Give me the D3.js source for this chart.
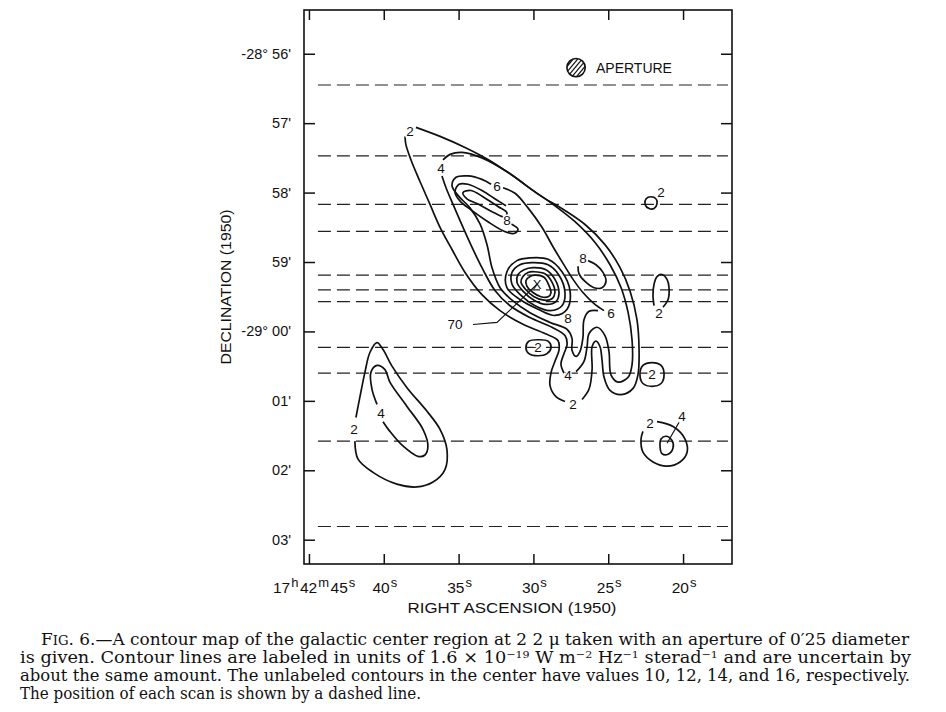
<!DOCTYPE html>
<html><head><meta charset="utf-8">
<script src="https://cdn.jsdelivr.net/npm/d3@7"></script>
<style>body{margin:0;background:#fff}</style>
</head><body>
<svg id="c" width="946" height="712"></svg>
<script>
// ---- axes data (RA seconds after 17h42m, Dec minutes after -28°00') ----
const raTicks = [45, 40, 35, 30, 25, 20];
const raTickLabels = ["45", "40", "35", "30", "25", "20"];
const decTicks = [56, 57, 58, 59, 60, 61, 62, 63];
const decTickLabels = ["-28° 56'", "57'", "58'", "59'", "-29° 00'", "01'", "02'", "03'"];
const raFrame = [45.33, 16.73];
const decFrame = [55.37, 63.35];
const scanDecs = [56.45, 57.47, 58.17, 58.56, 59.19, 59.40, 59.57, 60.23, 60.60, 61.58, 62.81];
const scanRA = [44.4, 17.0];

// ---- contours [RA s, Dec '] ----
const c2MainA = [[37.85,57.06],[36.24,57.19],[34.57,57.35],[32.90,57.54],[31.23,57.78],[29.56,58.04],[28.02,58.24],[26.55,58.46],[25.22,58.75],[24.21,59.08],[23.54,59.42],[23.08,59.83],[22.94,60.26],[23.01,60.62],[23.34,60.82],[24.15,60.91],[24.88,60.85],[25.28,60.66],[25.42,60.40],[25.55,60.22],[25.82,60.14],[26.08,60.22],[26.08,60.55],[26.28,60.83],[26.75,60.98]];
const c2MainB = [[27.89,61.01],[28.49,60.94],[28.89,60.78],[28.82,60.59],[28.56,60.43],[28.29,60.27],[28.36,60.13],[29.23,60.03],[30.76,59.89],[32.23,59.70],[33.44,59.47],[34.57,59.15],[35.44,58.82],[36.24,58.50],[36.91,58.17],[37.58,57.84],[38.18,57.53],[38.52,57.31],[38.58,57.19]];
const c4MainA = [[36.04,57.53],[35.57,57.45],[34.77,57.42],[33.44,57.50],[31.76,57.70],[30.23,57.94],[28.69,58.17],[27.22,58.42],[25.88,58.72],[24.88,59.04],[24.14,59.37],[23.67,59.73],[23.41,60.12],[23.41,60.48],[23.67,60.66],[24.35,60.73],[24.81,60.63],[24.95,60.29],[25.22,60.06],[25.75,59.94],[26.28,60.03],[26.42,60.23],[26.62,60.43],[27.15,60.58]];
const c4MainB = [[27.96,60.60],[28.16,60.47],[27.96,60.32],[27.75,60.19],[27.89,60.06],[28.76,59.94],[30.23,59.80],[31.56,59.63],[32.57,59.41],[33.37,59.11],[34.10,58.79],[34.77,58.47],[35.37,58.17],[35.84,57.93],[36.11,57.76]];
const c6A = [[32.03,57.93],[31.23,58.01],[30.36,58.22],[29.43,58.50],[28.69,58.78],[28.02,59.02],[27.35,59.25],[26.69,59.44],[25.95,59.60],[25.28,59.70]];
const c6B = [[25.68,59.70],[26.28,59.71],[26.62,59.83],[26.69,60.09],[26.89,60.29],[27.15,60.36],[27.42,60.27],[27.42,60.10],[27.75,59.97],[28.89,59.87],[30.23,59.73],[31.43,59.55],[32.23,59.37],[32.77,59.08],[33.10,58.75],[33.57,58.45],[34.24,58.22],[35.04,58.04],[35.44,57.90],[35.17,57.78],[34.37,57.76],[33.44,57.81],[32.83,57.88]];
const c8Upper = [[31.50,58.45],[31.03,58.53],[31.30,58.59],[32.03,58.55],[33.04,58.42],[34.10,58.26],[34.91,58.12],[35.24,57.99],[34.97,57.88],[34.37,57.88],[33.44,57.97],[32.50,58.10],[31.83,58.19]];
const c8UpperInner = [[34.71,58.00],[34.17,57.97],[33.30,58.07],[32.37,58.20],[31.77,58.29],[31.90,58.35],[32.63,58.29],[33.64,58.17],[34.44,58.09]];
const c8Right = [[26.35,58.98],[25.82,59.04],[25.35,59.15],[25.15,59.28],[25.42,59.37],[25.95,59.37],[26.55,59.28],[26.95,59.17],[27.02,59.06]];
const peak8 = [[30.23,58.94],[29.02,58.96],[28.09,59.14],[27.55,59.42],[27.75,59.68],[28.56,59.77],[29.69,59.68],[30.90,59.54],[31.77,59.37],[31.77,59.14],[31.10,58.98]];
const peak10 = [[30.09,59.01],[29.02,59.04],[28.29,59.19],[27.89,59.44],[28.09,59.63],[28.89,59.70],[29.89,59.63],[30.83,59.48],[31.43,59.32],[31.43,59.15],[30.90,59.04]];
const peak12 = [[30.03,59.08],[29.16,59.11],[28.56,59.25],[28.29,59.44],[28.49,59.57],[29.16,59.61],[29.96,59.55],[30.70,59.42],[31.10,59.29],[31.03,59.18],[30.63,59.11]];
const peak14 = [[29.96,59.14],[29.23,59.17],[28.76,59.29],[28.56,59.44],[28.76,59.53],[29.29,59.55],[29.96,59.50],[30.50,59.40],[30.83,59.29],[30.70,59.21],[30.36,59.15]];
const peak16 = [[29.89,59.19],[29.29,59.22],[28.96,59.34],[28.82,59.44],[29.02,59.50],[29.49,59.50],[30.03,59.44],[30.43,59.35],[30.50,59.27],[30.23,59.21]];
const peakPos = [29.76, 59.32];
const leader70 = [[34.04,59.90],[32.43,59.87],[29.76,59.32]];
const c2RightSmall = [[21.34,59.65],[21.00,59.54],[20.94,59.37],[21.07,59.25],[21.41,59.18],[21.74,59.21],[21.94,59.32],[22.01,59.48],[21.94,59.63]];
const c2RightCircle = [[22.07,60.45],[21.47,60.49],[21.27,60.62],[21.47,60.75],[22.07,60.79],[22.68,60.75],[22.88,60.62],[22.68,60.49]];
const c2Ellipse = [[29.69,60.12],[29.02,60.14],[28.82,60.23],[29.09,60.32],[29.69,60.35],[30.30,60.32],[30.50,60.23],[30.30,60.14]];
const c2TopRight = [[22.14,58.06],[21.81,58.09],[21.74,58.16],[21.94,58.23],[22.27,58.23],[22.54,58.17],[22.47,58.09]];
const c2LowRight = [[21.74,61.30],[20.67,61.37],[19.87,61.55],[19.73,61.74],[20.20,61.88],[21.07,61.94],[22.01,61.88],[22.68,61.74],[22.81,61.55],[22.68,61.44]];
const c4LowRight = [[21.14,61.51],[20.74,61.57],[20.67,61.68],[21.00,61.77],[21.41,61.76],[21.54,61.65],[21.47,61.55]];
const leader4LowRight = [[20.27,61.31],[21.07,61.61]];
const c2LowLeft = [[41.86,61.24],[41.59,60.94],[41.26,60.59],[40.92,60.30],[40.45,60.16],[40.05,60.26],[39.45,60.50],[38.45,60.81],[37.11,61.15],[36.24,61.41],[35.78,61.70],[35.91,61.99],[36.71,62.17],[37.78,62.24],[39.12,62.20],[40.72,62.03],[41.72,61.84],[41.93,61.58]];
const c4LowLeft = [[40.05,61.30],[39.59,61.44],[38.72,61.65],[37.71,61.80],[37.25,61.78],[37.05,61.65],[37.38,61.41],[38.45,61.08],[39.59,60.73],[39.92,60.55],[40.45,60.49],[40.86,60.59],[40.79,60.83],[40.45,61.05]];

const contourLabels = [
  {t:"2", ra:38.25, dec:57.11}, {t:"4", ra:36.18, dec:57.64}, {t:"6", ra:32.43, dec:57.91},
  {t:"8", ra:31.77, dec:58.40}, {t:"8", ra:26.69, dec:58.94}, {t:"6", ra:24.81, dec:59.74},
  {t:"8", ra:27.69, dec:59.80}, {t:"4", ra:27.69, dec:60.63}, {t:"2", ra:27.35, dec:61.04},
  {t:"2", ra:21.61, dec:59.74}, {t:"2", ra:22.07, dec:60.62}, {t:"2", ra:29.69, dec:60.23},
  {t:"2", ra:21.47, dec:57.99}, {t:"2", ra:22.21, dec:61.32}, {t:"4", ra:20.07, dec:61.22},
  {t:"2", ra:41.99, dec:61.41}, {t:"4", ra:40.19, dec:61.18}, {t:"70", ra:35.24, dec:59.90}
];
const aperture = {ra:27.15, dec:56.20, diam:0.25, label:"APERTURE", labelRA:25.82};

// caption: segments [text, kind] (0 normal, 1 superscript, 2 small caps)
const captionLine1 = [["F",0],["IG",2],[". 6.—A contour map of the galactic center region at 2 2 μ taken with an aperture of 0′25 diameter",0]];
const captionLine2 = [["is given. Contour lines are labeled in units of 1.6 × 10",0],["−19",1],[" W m",0],["−2",1],[" Hz",0],["−1",1],[" sterad",0],["−1",1],[" and are uncertain by",0]];
const captionLine3 = [["about the same amount. The unlabeled contours in the center have values 10, 12, 14, and 16, respectively.",0]];
const captionLine4 = [["The position of each scan is shown by a dashed line.",0]];

// ---- drawing ----
const svg = d3.select("#c");
const x = d3.scaleLinear().domain(raFrame).range([304, 732]);
const y = d3.scaleLinear().domain(decFrame).range([10, 564]);
const sans = "'Liberation Sans', Arial, sans-serif";

// scan lines
svg.append("g").selectAll("line").data(scanDecs).join("line")
  .attr("x1", x(scanRA[0])).attr("x2", x(scanRA[1]))
  .attr("y1", d => y(d)).attr("y2", d => y(d))
  .attr("stroke", "#222").attr("stroke-width", 1.2).attr("stroke-dasharray", "13,6");

// frame
svg.append("rect").attr("x", x(raFrame[0])).attr("y", y(decFrame[0]))
  .attr("width", x(raFrame[1]) - x(raFrame[0])).attr("height", y(decFrame[1]) - y(decFrame[0]))
  .attr("fill", "none").attr("stroke", "#111").attr("stroke-width", 1.6);

function styleAxis(g){ g.select(".domain").remove(); g.selectAll("line").attr("stroke","#111").attr("stroke-width",1.5); g.selectAll("text").remove(); }
svg.append("g").attr("transform", `translate(0,${y(decFrame[0])})`).call(d3.axisBottom(x).tickValues(raTicks).tickSize(10)).call(styleAxis);
svg.append("g").attr("transform", `translate(0,${y(decFrame[1])})`).call(d3.axisTop(x).tickValues(raTicks).tickSize(10)).call(styleAxis);
svg.append("g").attr("transform", `translate(${x(raFrame[0])},0)`).call(d3.axisRight(y).tickValues(decTicks).tickSize(11)).call(styleAxis);
svg.append("g").attr("transform", `translate(${x(raFrame[1])},0)`).call(d3.axisLeft(y).tickValues(decTicks).tickSize(11)).call(styleAxis);

// tick labels
svg.append("g").selectAll("text").data(decTicks).join("text")
  .attr("x", 291).attr("y", d => y(d) + 5).attr("text-anchor", "end")
  .attr("font-family", sans).attr("font-size", 14.5).attr("fill", "#111")
  .text((d, i) => decTickLabels[i]);

const xl = svg.append("g").attr("font-family", sans).attr("font-size", 15.5).attr("fill", "#111");
raTicks.forEach((t, i) => {
  const tx = xl.append("text").attr("y", 593);
  if (i === 0) {
    tx.attr("x", 273).attr("text-anchor", "start");
    tx.append("tspan").text("17");
    tx.append("tspan").attr("dx", 1).attr("dy", -6).attr("font-size", 13).text("h");
    tx.append("tspan").attr("dx", 1.5).attr("dy", 6).text("42");
    tx.append("tspan").attr("dx", 1).attr("dy", -6).attr("font-size", 13).text("m");
    tx.append("tspan").attr("dx", 1.5).attr("dy", 6).text(raTickLabels[i]);
    tx.append("tspan").attr("dx", 1).attr("dy", -6).attr("font-size", 13).text("s");
  } else {
    tx.attr("x", x(t) + 1).attr("text-anchor", "middle");
    tx.append("tspan").text(raTickLabels[i]);
    tx.append("tspan").attr("dx", 1).attr("dy", -6).attr("font-size", 13).text("s");
  }
});

svg.append("text").attr("x", 512).attr("y", 613).attr("text-anchor", "middle")
  .attr("font-family", sans).attr("font-size", 15).attr("fill", "#111")
  .attr("textLength", 209).attr("lengthAdjust", "spacingAndGlyphs").text("RIGHT ASCENSION (1950)");
svg.append("text").attr("transform", "translate(231,287) rotate(-90)").attr("text-anchor", "middle")
  .attr("font-family", sans).attr("font-size", 15).attr("fill", "#111")
  .attr("textLength", 155).attr("lengthAdjust", "spacingAndGlyphs").text("DECLINATION (1950)");

// contours
const openLine = d3.line().x(d => x(d[0])).y(d => y(d[1])).curve(d3.curveCatmullRom.alpha(0.5));
const closedLine = d3.line().x(d => x(d[0])).y(d => y(d[1])).curve(d3.curveCatmullRomClosed.alpha(0.5));
const openSets = [c2MainA, c2MainB, c4MainA, c4MainB, c6A, c6B, c8Upper, c8Right, c2RightSmall, c2LowRight, c2LowLeft, c4LowLeft];
const closedSets = [c8UpperInner, peak8, peak10, peak12, peak14, peak16, c2RightCircle, c2Ellipse, c2TopRight, c4LowRight];
const cg = svg.append("g").attr("fill", "none").attr("stroke", "#111").attr("stroke-width", 1.7).attr("stroke-linejoin", "round");
cg.selectAll("path.o").data(openSets).join("path").attr("class", "o").attr("d", openLine);
cg.selectAll("path.c").data(closedSets).join("path").attr("class", "c").attr("d", closedLine);
const lg = svg.append("g").attr("fill", "none").attr("stroke", "#111").attr("stroke-width", 1.1);
lg.append("path").attr("d", d3.line().x(d => x(d[0])).y(d => y(d[1]))(leader70));
lg.append("path").attr("d", d3.line().x(d => x(d[0])).y(d => y(d[1]))(leader4LowRight));

// peak marker
svg.append("text").attr("x", x(peakPos[0])).attr("y", y(peakPos[1]) + 5).attr("text-anchor", "middle")
  .attr("font-family", sans).attr("font-size", 13).attr("fill", "#111").text("X");

// contour labels
svg.append("g").selectAll("text").data(contourLabels).join("text")
  .attr("x", d => x(d.ra)).attr("y", d => y(d.dec) + 5).attr("text-anchor", "middle")
  .attr("font-family", sans).attr("font-size", 13.5).attr("fill", "#111")
  .attr("stroke", "#fff").attr("stroke-width", 3).attr("paint-order", "stroke")
  .text(d => d.t);

// aperture symbol
const ar = y(decFrame[0] + aperture.diam / 2) - y(decFrame[0]) + 0.5;
const ax = x(aperture.ra), ay = y(aperture.dec);
const defs = svg.append("defs");
defs.append("clipPath").attr("id", "apclip").append("circle").attr("cx", ax).attr("cy", ay).attr("r", ar);
const hatch = svg.append("g").attr("clip-path", "url(#apclip)").attr("stroke", "#111").attr("stroke-width", 1.2);
[-8, -3.5, 1, 5.5, 10].forEach(o => {
  hatch.append("line").attr("x1", ax + o - 12).attr("y1", ay + 12).attr("x2", ax + o + 12 - 4).attr("y2", ay - 12);
});
svg.append("circle").attr("cx", ax).attr("cy", ay).attr("r", ar).attr("fill", "none").attr("stroke", "#111").attr("stroke-width", 1.6);
svg.append("text").attr("x", x(aperture.labelRA)).attr("y", ay + 5).attr("font-family", sans).attr("font-size", 14)
  .attr("fill", "#111").attr("textLength", 76).attr("lengthAdjust", "spacingAndGlyphs").text(aperture.label);

// caption
const serif = "'DejaVu Serif', 'Liberation Serif', serif";
const capLines = [captionLine1, captionLine2, captionLine3, captionLine4];
const capX = [41, 20, 20, 20], capY = [645, 663, 681, 699], capW = [868, 891, 890, 401];
capLines.forEach((segs, i) => {
  const t = svg.append("text").attr("x", capX[i]).attr("y", capY[i]).attr("font-family", serif)
    .attr("font-size", 16).attr("fill", "#111").attr("textLength", capW[i]).attr("lengthAdjust", "spacingAndGlyphs");
  let raised = false;
  segs.forEach(([s, kind]) => {
    const sp = t.append("tspan").text(s);
    if (kind === 1) { sp.attr("font-size", 10).attr("dy", raised ? 0 : -5); raised = true; }
    else {
      if (raised) { sp.attr("dy", 5); raised = false; }
      if (kind === 2) sp.attr("font-size", 12.5);
    }
  });
});
</script>
</body></html>
